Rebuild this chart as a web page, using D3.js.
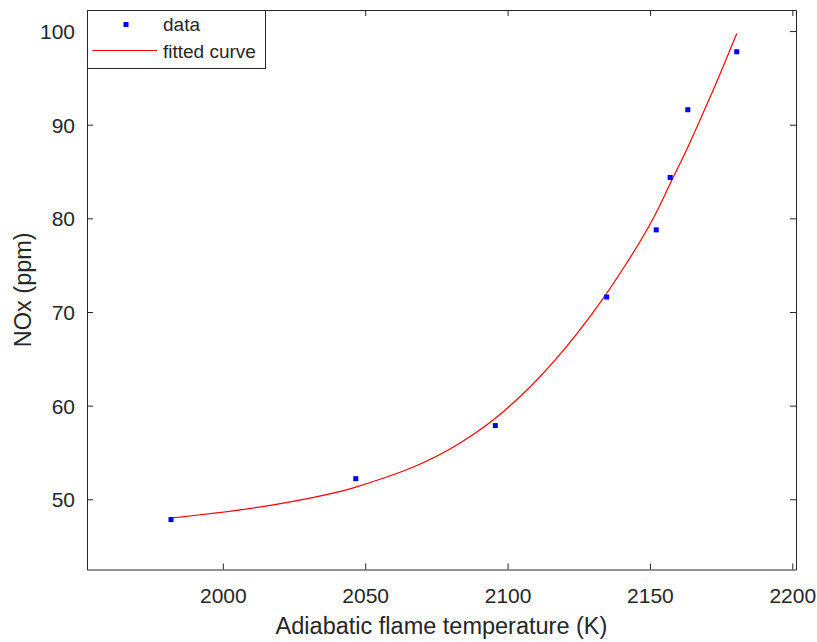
<!DOCTYPE html>
<html>
<head>
<meta charset="utf-8">
<script src="https://cdn.jsdelivr.net/npm/d3@7"></script>
<style>
  body { margin: 0; background: #fff; }
  text { font-family: "Liberation Sans", Arial, sans-serif; fill: #262626; }
  .axis path, .axis line { stroke: #262626; }
</style>
</head>
<body>
<div id="chart"></div>
<script>
// measured data points
var dataT = [1981.8, 2046.7, 2095.7, 2134.8, 2152.2, 2157.1, 2163.3, 2180.5];
var dataNOx = [47.83, 52.2, 57.87, 71.6, 78.77, 84.37, 91.6, 97.79];

// fitted curve
var fitT = [1981.8, 2017.7, 2046.7, 2083.3, 2095.5, 2132.5, 2140.1, 2152.2, 2157.1, 2163.3, 2167.6, 2172.5, 2180.5];
var fitNOx = [48.0, 49.4, 51.3, 56.0, 58.6, 71.0, 74.4, 80.6, 83.7, 87.6, 90.5, 93.9, 99.75];

var xTicks = [2000, 2050, 2100, 2150, 2200];
var yTicks = [50, 60, 70, 80, 90, 100];
var legendLabels = ["data", "fitted curve"];

var W = 817, H = 642;
var margin = {top: 10, right: 21, bottom: 72.5, left: 87};
var width = W - margin.left - margin.right;
var height = H - margin.top - margin.bottom;

var svg = d3.select("#chart")
    .append("svg")
    .attr("width", W)
    .attr("height", H)
  .append("g")
    .attr("transform", "translate(" + margin.left + "," + margin.top + ")");

var x = d3.scaleLinear().domain([1952.3, 2201.3]).range([0, width]);
var y = d3.scaleLinear().domain([42.5, 102.25]).range([height, 0]);

// axes, ticks pointing inward like matlab
svg.append("g")
    .attr("class", "axis")
    .attr("transform", "translate(0," + height + ")")
    .call(d3.axisBottom(x).tickValues(xTicks).tickFormat(d3.format("d"))
        .tickSizeInner(-6).tickSizeOuter(0).tickPadding(19))
    .call(function(g) { g.selectAll("text").style("font-size", "21px").attr("fill", "#262626"); });

svg.append("g")
    .attr("class", "axis")
    .call(d3.axisLeft(y).tickValues(yTicks).tickSizeInner(-6).tickSizeOuter(0).tickPadding(12))
    .call(function(g) { g.selectAll("text").style("font-size", "21px").attr("fill", "#262626").attr("dy", "0.36em"); });

svg.append("g")
    .attr("class", "axis")
    .call(d3.axisTop(x).tickValues(xTicks).tickSizeInner(-6).tickSizeOuter(0).tickFormat(""));

svg.append("g")
    .attr("class", "axis")
    .attr("transform", "translate(" + width + ",0)")
    .call(d3.axisRight(y).tickValues(yTicks).tickSizeInner(-6).tickSizeOuter(0).tickFormat(""));

// fitted curve
var fit = fitT.map(function(t, i) { return [t, fitNOx[i]]; });
svg.append("path")
    .datum(fit)
    .attr("fill", "none")
    .attr("stroke", "#ff0000")
    .attr("stroke-width", 1.2)
    .attr("d", d3.line()
        .x(function(d) { return x(d[0]); })
        .y(function(d) { return y(d[1]); })
        .curve(d3.curveMonotoneX));

// data markers
svg.selectAll(".pt")
    .data(dataT)
    .enter().append("rect")
    .attr("class", "pt")
    .attr("x", function(d) { return x(d) - 2.5; })
    .attr("y", function(d, i) { return y(dataNOx[i]) - 2.5; })
    .attr("width", 5)
    .attr("height", 5)
    .attr("fill", "#0000ff");

// axis labels
svg.append("text")
    .attr("x", width / 2)
    .attr("y", height + 64.5)
    .attr("text-anchor", "middle")
    .style("font-size", "23.5px")
    .text("Adiabatic flame temperature (K)");

svg.append("text")
    .attr("transform", "translate(" + (-56) + "," + (height / 2) + ") rotate(-90)")
    .attr("text-anchor", "middle")
    .style("font-size", "23.5px")
    .text("NOx (ppm)");

// legend
var lg = svg.append("g");
lg.append("rect")
    .attr("x", 0.5)
    .attr("y", 0.5)
    .attr("width", 178)
    .attr("height", 58)
    .attr("fill", "#fff")
    .attr("stroke", "#262626")
    .attr("stroke-width", 1);
lg.append("rect")
    .attr("x", 39 - 2.5)
    .attr("y", 14.5 - 2.5)
    .attr("width", 5)
    .attr("height", 5)
    .attr("fill", "#0000ff");
lg.append("line")
    .attr("x1", 5.5)
    .attr("x2", 70)
    .attr("y1", 40.5)
    .attr("y2", 40.5)
    .attr("stroke", "#ff0000")
    .attr("stroke-width", 1.2);
lg.selectAll(".lt")
    .data(legendLabels)
    .enter().append("text")
    .attr("class", "lt")
    .attr("x", 76)
    .attr("y", function(d, i) { return 21 + i * 26.5; })
    .style("font-size", "19px")
    .attr("fill", "#000")
    .text(function(d) { return d; });
</script>
</body>
</html>
